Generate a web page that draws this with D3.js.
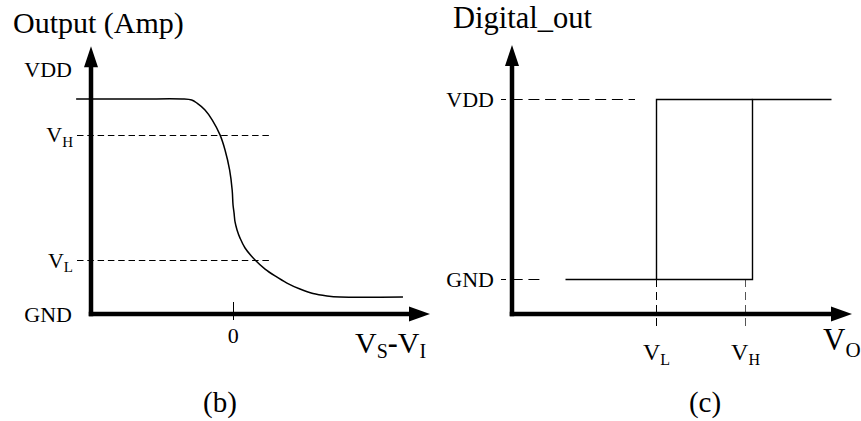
<!DOCTYPE html>
<html>
<head>
<meta charset="utf-8">
<script src="https://cdn.jsdelivr.net/npm/d3@7"></script>
<style>
  html, body { margin: 0; padding: 0; background: #fff; }
  svg { display: block; }
  text { font-family: "Liberation Serif", "Times New Roman", serif; fill: #000; }
</style>
</head>
<body>
<svg id="fig" width="861" height="421"></svg>
<script>
// ---- (b) amplifier output vs. V_S - V_I (arbitrary units; GND = 0, VDD = 1)
const ampX = [-1.104, -0.657, -0.363, -0.296, -0.259, -0.203, -0.152, -0.098, -0.063, -0.031, -0.013, -0.007, 0.000, 0.007, 0.021, 0.042, 0.077, 0.147, 0.217, 0.287, 0.370, 0.461, 0.552, 0.650, 0.741, 1.181];
const ampY = [1.000, 1.000, 1.000, 0.995, 0.981, 0.949, 0.902, 0.833, 0.763, 0.670, 0.577, 0.507, 0.470, 0.428, 0.391, 0.353, 0.307, 0.251, 0.209, 0.177, 0.144, 0.116, 0.095, 0.084, 0.079, 0.079];
const ampThresholds = [0.833, 0.251];          // V_H, V_L levels
const ampThresholdNames = ["H", "L"];
const ampLevelLabels = ["VDD", "GND"];
const ampLevelValues = [1.135, -0.004];
const ampTickValues = [0];
const ampTickLabels = ["0"];

// ---- (c) comparator digital output vs. V_O (hysteresis loop)
const cmpLowBranchX = [0.53, 2.40, 2.40, 3.19];
const cmpLowBranchY = [0, 0, 1, 1];
const cmpHighBranchX = [1.44, 1.44, 2.40];
const cmpHighBranchY = [0, 1, 1];
const cmpLevelLabels = ["VDD", "GND"];
const cmpLevelValues = [1, 0];
const cmpLevelGuideEnd = [1.23, 0.30];
const cmpMarkX = [1.44, 2.33];
const cmpMarkNames = ["L", "H"];

const svg = d3.select("#fig");
const AXIS_W = 4.5;
const snap = v => Math.round(v) + 0.5;   // keep thin lines on pixel centres

function arrowUp(g, x, yTip) {
  g.append("path").attr("d", `M${x},${yTip} L${x - 7},${yTip + 21} L${x + 7},${yTip + 21} Z`).attr("fill", "#000");
}
function arrowRight(g, xTip, y) {
  g.append("path").attr("d", `M${xTip},${y} L${xTip - 21},${y - 7.5} L${xTip - 21},${y + 7.5} Z`).attr("fill", "#000");
}
function subLabel(g, x, y, main, sub, size, subSize, anchor) {
  const t = g.append("text").attr("x", x).attr("y", y).attr("text-anchor", anchor || "start").style("font-size", size + "px");
  t.append("tspan").text(main);
  t.append("tspan").attr("dy", subSize * 0.32).style("font-size", subSize + "px").text(sub);
  return t;
}

// ================= panel (b) =================
{
  const g = svg.append("g");
  const x = d3.scaleLinear().domain([-1, 1.37]).range([91, 430]);
  const y = d3.scaleLinear().domain([0, 1]).range([314, 99]);
  const x0 = x.range()[0], yTop = y(1.245);

  // threshold guides
  g.selectAll("line.th").data(ampThresholds).join("line")
    .attr("x1", 77).attr("x2", x(0.265))
    .attr("y1", d => snap(y(d))).attr("y2", d => snap(y(d)))
    .attr("stroke", "#000").attr("stroke-width", 1).attr("stroke-dasharray", "6.5 3.8");

  // transfer curve
  const pts = ampX.map((v, i) => [x(v), y(ampY[i])]);
  g.append("path").datum(pts)
    .attr("d", d3.line().curve(d3.curveCatmullRom.alpha(0.5)))
    .attr("fill", "none").attr("stroke", "#000").attr("stroke-width", 1.5);

  // axes
  g.append("line").attr("x1", x0).attr("x2", x0).attr("y1", y(0) + AXIS_W / 2).attr("y2", yTop + 10)
    .attr("stroke", "#000").attr("stroke-width", AXIS_W);
  g.append("line").attr("x1", x0 - AXIS_W / 2).attr("x2", x.range()[1] - 10).attr("y1", y(0)).attr("y2", y(0))
    .attr("stroke", "#000").attr("stroke-width", AXIS_W);
  arrowUp(g, x0, yTop);
  arrowRight(g, x.range()[1], y(0));

  // zero tick
  g.selectAll("line.tk").data(ampTickValues).join("line")
    .attr("x1", d => snap(x(d) - 1)).attr("x2", d => snap(x(d) - 1)).attr("y1", y(0) - 12).attr("y2", y(0) + 6)
    .attr("stroke", "#000").attr("stroke-width", 1);
  g.selectAll("text.tk").data(ampTickValues).join("text")
    .attr("x", d => x(d) - 0.7).attr("y", y(0) + 29).attr("text-anchor", "middle")
    .style("font-size", "22px").text((d, i) => ampTickLabels[i]);

  // level labels
  ampLevelLabels.forEach((s, i) => {
    g.append("text").attr("x", 72).attr("y", y(ampLevelValues[i]) + 7.5).attr("text-anchor", "end")
      .style("font-size", "22px").text(s);
  });
  ampThresholds.forEach((v, i) => {
    subLabel(g, 73, y(v) + 7.5, "V", ampThresholdNames[i], 22, 15, "end");
  });

  // axis titles
  g.append("text").attr("x", 13).attr("y", 32.5).style("font-size", "30px").text("Output (Amp)");
  const xt = g.append("text").attr("x", 355).attr("y", 353).style("font-size", "30px");
  xt.append("tspan").text("V");
  xt.append("tspan").attr("dy", 5).style("font-size", "20px").text("S");
  xt.append("tspan").attr("dy", -5).style("font-weight", "bold").text("-");
  xt.append("tspan").text("V");
  xt.append("tspan").attr("dy", 5).style("font-size", "20px").text("I");

  g.append("text").attr("x", 220).attr("y", 412).attr("text-anchor", "middle").style("font-size", "29px").text("(b)");
}

// ================= panel (c) =================
{
  const g = svg.append("g");
  const x = d3.scaleLinear().domain([0, 3.4]).range([512, 852]);
  const y = d3.scaleLinear().domain([0, 1]).range([279, 99]);
  const yAxis = 314, x0 = x(0), yTop = 45;

  // level guides
  cmpLevelValues.forEach((v, i) => {
    g.append("line").attr("x1", 501).attr("x2", x(cmpLevelGuideEnd[i]))
      .attr("y1", snap(y(v))).attr("y2", snap(y(v)))
      .attr("stroke", "#000").attr("stroke-width", 1)
      .attr("stroke-dasharray", "11 5.7").attr("stroke-dashoffset", 6);
  });

  // switching-point guides down to the axis labels
  cmpMarkX.forEach((v, i) => {
    g.append("line").attr("x1", snap(x(v))).attr("x2", snap(x(v))).attr("y1", y(0)).attr("y2", yAxis + 14)
      .attr("stroke", i === 0 ? "#000" : "#555").attr("stroke-width", 1).attr("stroke-dasharray", "8 5");
  });

  // hysteresis loop
  const line = d3.line();
  g.append("path").datum(cmpLowBranchX.map((v, i) => [snap(x(v)), snap(y(cmpLowBranchY[i]))]))
    .attr("d", line).attr("fill", "none").attr("stroke", "#000").attr("stroke-width", 1.4);
  g.append("path").datum(cmpHighBranchX.map((v, i) => [snap(x(v)), snap(y(cmpHighBranchY[i]))]))
    .attr("d", line).attr("fill", "none").attr("stroke", "#000").attr("stroke-width", 1.4);

  // axes
  g.append("line").attr("x1", x0).attr("x2", x0).attr("y1", yAxis + AXIS_W / 2).attr("y2", yTop + 10)
    .attr("stroke", "#000").attr("stroke-width", AXIS_W);
  g.append("line").attr("x1", x0 - AXIS_W / 2).attr("x2", x.range()[1] - 10).attr("y1", yAxis).attr("y2", yAxis)
    .attr("stroke", "#000").attr("stroke-width", AXIS_W);
  arrowUp(g, x0, yTop);
  arrowRight(g, x.range()[1], yAxis);

  // labels
  cmpLevelLabels.forEach((s, i) => {
    g.append("text").attr("x", 494).attr("y", y(cmpLevelValues[i]) + 7.5).attr("text-anchor", "end")
      .style("font-size", "22px").text(s);
  });
  cmpMarkX.forEach((v, i) => {
    subLabel(g, x(v) + 0.5, 360, "V", cmpMarkNames[i], 24, 16, "middle");
  });

  g.append("text").attr("x", 453).attr("y", 28).style("font-size", "30.5px").text("Digital_out");
  subLabel(g, 823, 350, "V", "O", 31, 21, "start");

  g.append("text").attr("x", 705).attr("y", 412).attr("text-anchor", "middle").style("font-size", "29px").text("(c)");
}
</script>
</body>
</html>
